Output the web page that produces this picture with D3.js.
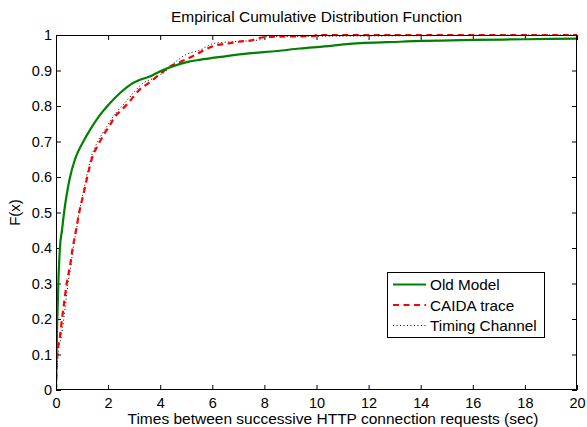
<!DOCTYPE html>
<html>
<head>
<meta charset="utf-8">
<script src="https://cdn.jsdelivr.net/npm/d3@7"></script>
<style>
  html, body { margin: 0; padding: 0; background: #fff; }
  svg { display: block; }
  text { font-family: "Liberation Sans", Arial, Helvetica, sans-serif; fill: #000; }
</style>
</head>
<body>
<svg id="chart" width="587" height="427"></svg>
<script>
// ---- Data ----
const titleText = "Empirical Cumulative Distribution Function";
const xLabelText = "Times between successive HTTP connection requests (sec)";
const yLabelText = "F(x)";

const xTicks = [0, 2, 4, 6, 8, 10, 12, 14, 16, 18, 20];
const yTicks = [0, 0.1, 0.2, 0.3, 0.4, 0.5, 0.6, 0.7, 0.8, 0.9, 1];

const seriesNames = ["Old Model", "CAIDA trace", "Timing Channel"];

const oldModelX = [0, 0.02, 0.05, 0.09, 0.15, 0.23, 0.31, 0.41, 0.54, 0.73, 1.05, 1.3, 1.69, 2.07, 2.45, 2.83, 3.2, 3.6, 3.98, 4.3, 5.1, 5.5, 6.5, 7.4, 8.5, 9.35, 10.3, 11.26, 13.2, 16, 18, 20];
const oldModelF = [0, 0.1, 0.2, 0.3, 0.4, 0.45, 0.5, 0.55, 0.6, 0.65, 0.7, 0.732, 0.775, 0.808, 0.836, 0.859, 0.873, 0.883, 0.897, 0.907, 0.925, 0.93, 0.94, 0.948, 0.955, 0.962, 0.968, 0.975, 0.981, 0.986, 0.988, 0.99];

const caidaX = [0, 0.02, 0.05, 0.15, 0.23, 0.32, 0.41, 0.54, 0.64, 0.77, 0.89, 1.05, 1.2, 1.37, 1.65, 1.88, 2.07, 2.26, 2.52, 2.77, 3.22, 3.54, 3.79, 4.11, 4.37, 4.8, 5.35, 5.78, 6.2, 6.6, 7.0, 7.5, 7.9, 8.4, 9.0, 9.9, 10.0, 20];
const caidaF = [0, 0.05, 0.1, 0.15, 0.2, 0.25, 0.3, 0.35, 0.4, 0.45, 0.5, 0.55, 0.6, 0.65, 0.695, 0.725, 0.746, 0.77, 0.789, 0.808, 0.847, 0.864, 0.878, 0.897, 0.911, 0.925, 0.944, 0.961, 0.972, 0.976, 0.981, 0.985, 0.993, 0.995, 0.996, 0.997, 1, 1];

const timingX = [0, 0.03, 0.08, 0.2, 0.3, 0.38, 0.46, 0.57, 0.66, 0.78, 0.89, 1.03, 1.17, 1.33, 1.6, 1.85, 2.1, 2.35, 2.6, 2.95, 3.3, 3.8, 4.25, 4.6, 5.0, 5.5, 6.1, 6.8, 7.8, 8.0, 11.3, 14, 16, 20];
const timingF = [0, 0.05, 0.1, 0.15, 0.2, 0.25, 0.3, 0.35, 0.4, 0.45, 0.5, 0.55, 0.6, 0.65, 0.7, 0.73, 0.76, 0.785, 0.805, 0.835, 0.862, 0.88, 0.9, 0.925, 0.945, 0.957, 0.977, 0.981, 0.986, 0.995, 0.997, 0.998, 0.999, 1];

// ---- Layout ----
const svg = d3.select("#chart");
const W = 587, H = 427;
const margin = { left: 56, right: 10, top: 35, bottom: 37 };
const x0 = margin.left, x1 = W - margin.right;
const y0 = H - margin.bottom, y1 = margin.top;

const x = d3.scaleLinear().domain([0, 20]).range([x0, x1]);
const y = d3.scaleLinear().domain([0, 1]).range([y0, y1]);

const fmtY = d => d === 0 ? "0" : (d === 1 ? "1" : d3.format(".1f")(d));
const tickLen = 5;
const fs = 14.5;

// background
svg.append("rect").attr("x", 0).attr("y", 0).attr("width", W).attr("height", H).attr("fill", "#fff");

// Axes
const gx = svg.append("g").attr("transform", `translate(0,${y0})`)
  .call(d3.axisBottom(x).tickValues(xTicks).tickSizeInner(-tickLen).tickSizeOuter(0).tickPadding(8).tickFormat(d3.format("d")));
const gxt = svg.append("g").attr("transform", `translate(0,${y1})`)
  .call(d3.axisTop(x).tickValues(xTicks).tickSizeInner(-tickLen).tickSizeOuter(0).tickFormat(""));
const gy = svg.append("g").attr("transform", `translate(${x0},0)`)
  .call(d3.axisLeft(y).tickValues(yTicks).tickSizeInner(-tickLen).tickSizeOuter(0).tickPadding(4).tickFormat(fmtY));
const gyr = svg.append("g").attr("transform", `translate(${x1},0)`)
  .call(d3.axisRight(y).tickValues(yTicks).tickSizeInner(-tickLen).tickSizeOuter(0).tickFormat(""));

[gx, gxt, gy, gyr].forEach(g => {
  g.select(".domain").remove();
  g.selectAll(".tick line").attr("stroke", "#000").attr("stroke-width", 1);
  g.selectAll(".tick text").attr("font-size", fs).attr("font-family", "Liberation Sans, Arial, sans-serif").attr("fill", "#000");
});

// Lines
const line = d3.line().x(d => x(d[0])).y(d => y(d[1])).curve(d3.curveMonotoneX);
const zip = (a, b) => a.map((v, i) => [v, b[i]]);

svg.append("clipPath").attr("id", "clip").append("rect")
  .attr("x", x0).attr("y", y1 - 2).attr("width", x1 - x0).attr("height", y0 - y1 + 2);

const plot = svg.append("g").attr("clip-path", "url(#clip)");
plot.append("path").datum(zip(timingX, timingF)).attr("d", line)
  .attr("fill", "none").attr("stroke", "#000").attr("stroke-width", 1).attr("stroke-dasharray", "1,2.5");
plot.append("path").datum(zip(caidaX, caidaF)).attr("d", line)
  .attr("fill", "none").attr("stroke", "#ff0000").attr("stroke-width", 2.2).attr("stroke-dasharray", "6,4.5");
plot.append("path").datum(zip(oldModelX, oldModelF)).attr("d", line)
  .attr("fill", "none").attr("stroke", "#008000").attr("stroke-width", 2.2);

// Box
svg.append("rect").attr("x", x0 + 0.5).attr("y", y1 + 0.5).attr("width", x1 - x0 - 1).attr("height", y0 - y1 - 1)
  .attr("fill", "none").attr("stroke", "#000").attr("stroke-width", 1);

// Title & labels
svg.append("text").attr("x", (x0 + x1) / 2).attr("y", 22).attr("text-anchor", "middle")
  .attr("font-size", 15.5).text(titleText);
svg.append("text").attr("x", 333).attr("y", 424).attr("text-anchor", "middle")
  .attr("font-size", 15.5).text(xLabelText);
svg.append("text").attr("transform", `translate(20,${(y0 + y1) / 2}) rotate(-90)`).attr("text-anchor", "middle")
  .attr("font-size", 15).text(yLabelText);

// Legend
const lg = svg.append("g");
const lx = 387, ly = 272, lw = 157, lh = 65;
lg.append("rect").attr("x", lx + 0.5).attr("y", ly + 0.5).attr("width", lw).attr("height", lh)
  .attr("fill", "#fff").attr("stroke", "#000").attr("stroke-width", 1);
const legStyles = [
  { stroke: "#008000", w: 2.2, dash: null },
  { stroke: "#ff0000", w: 2.2, dash: "6,4.5" },
  { stroke: "#000", w: 1, dash: "1,2.5" }
];
seriesNames.forEach((name, i) => {
  const yy = ly + 12.5 + i * 20.5;
  const s = legStyles[i];
  const l = lg.append("line").attr("x1", lx + 6).attr("x2", lx + 39).attr("y1", yy).attr("y2", yy)
    .attr("stroke", s.stroke).attr("stroke-width", s.w);
  if (s.dash) l.attr("stroke-dasharray", s.dash);
  lg.append("text").attr("x", lx + 43).attr("y", yy + 5.5).attr("font-size", 15.3).text(name);
});
</script>
</body>
</html>
